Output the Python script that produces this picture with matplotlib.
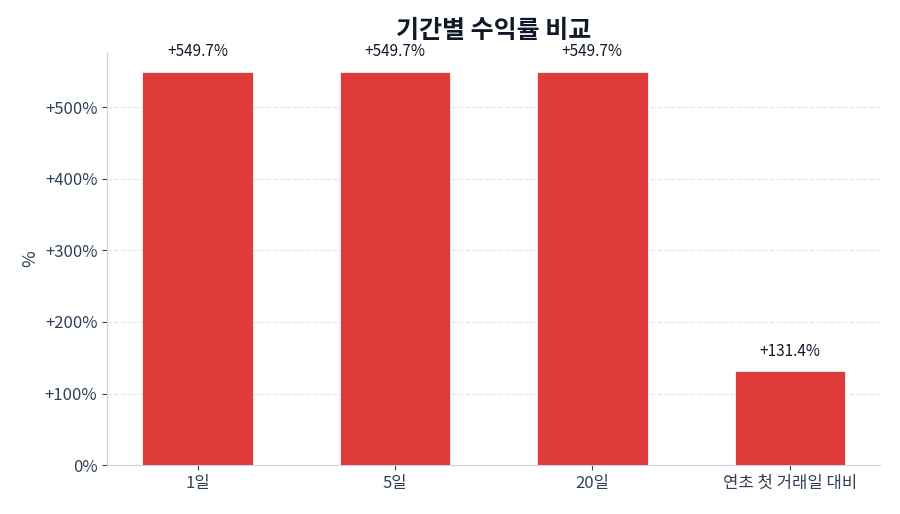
import numpy as np
import matplotlib
matplotlib.use("Agg")
import matplotlib.pyplot as plt
from matplotlib.ticker import FuncFormatter

plt.rcParams['font.family'] = ['Noto Sans CJK KR', 'DejaVu Sans']

# 데이터
periods = ["1일", "5일", "20일", "연초 첫 거래일 대비"]
returns = [549.7, 549.7, 549.7, 131.4]
title = "기간별 수익률 비교"

fig, ax = plt.subplots(figsize=(9, 5.14), dpi=100)
fig.subplots_adjust(left=0.119, right=0.978, top=0.899, bottom=0.095)

x = np.arange(len(periods))
ax.bar(x, returns, width=0.56, color="#dc2626", alpha=0.9,
       edgecolor="white", linewidth=0.6, zorder=3)

for xi, v in zip(x, returns):
    ax.annotate(f"{v:+.1f}%", (xi, v), xytext=(0, 8), textcoords="offset points",
                ha="center", va="bottom", fontsize=11, color="#111827")

ax.set_xticks(x)
ax.set_xticklabels(periods)
ax.set_ylim(0, max(returns) * 1.05)
ax.yaxis.set_major_formatter(FuncFormatter(lambda v, p: f"{v:+.0f}%" if v != 0 else "0%"))
ax.set_ylabel("%", fontsize=13, color="#334155")
ax.set_title(title, fontsize=18, fontweight="bold", color="#111827", pad=10)

ax.tick_params(axis="both", labelsize=12, colors="#334155")
ax.grid(axis="y", linestyle="--", color="#e5e7eb", linewidth=0.9, zorder=0)
for s in ["top", "right"]:
    ax.spines[s].set_visible(False)
for s in ["left", "bottom"]:
    ax.spines[s].set_color("#cbd5e1")

fig.savefig("out.png", dpi=100)
